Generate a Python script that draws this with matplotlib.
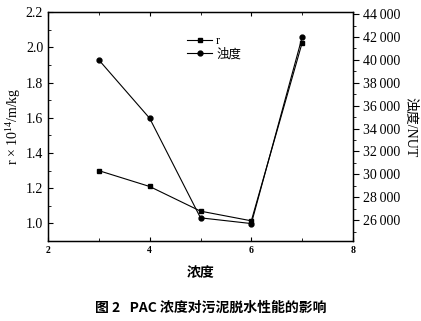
import matplotlib

matplotlib.use("Agg")
import matplotlib.pyplot as plt
from matplotlib.ticker import FixedLocator, FuncFormatter, MultipleLocator

plt.rcParams["font.family"] = ["Liberation Serif", "Noto Sans CJK SC"]
plt.rcParams["mathtext.fontset"] = "custom"
plt.rcParams["mathtext.rm"] = "Liberation Serif"
plt.rcParams["mathtext.it"] = "Liberation Serif:italic"

# Data
conc = [3, 4, 5, 6, 7]
r_values = [1.30, 1.21, 1.07, 1.015, 2.027]
turbidity = [40000, 34900, 26200, 25700, 42000]

x_ticks = [2, 4, 6, 8]
cjk = ["Noto Sans CJK SC", "DejaVu Sans"]
serif_cjk = ["Liberation Serif", "Noto Sans CJK SC"]

fig = plt.figure(figsize=(4.21, 3.21), dpi=100)
ax = fig.add_axes([0.114, 0.249, 0.7245, 0.713])
ax2 = ax.twinx()

l1, = ax.plot(conc, r_values, "k-", marker="s", markersize=3.5, linewidth=0.8, label="r")
l2, = ax2.plot(conc, turbidity, "k-", marker="o", markersize=3.5, linewidth=0.8, label="浊度")

ax.set_xlim(2, 8)
ax.set_ylim(0.9, 2.2)
ax2.set_ylim(24170, 44170)

ax.xaxis.set_major_locator(FixedLocator(x_ticks))
ax.xaxis.set_minor_locator(MultipleLocator(1))
ax.yaxis.set_major_locator(FixedLocator([1.0, 1.2, 1.4, 1.6, 1.8, 2.0, 2.2]))
ax.yaxis.set_minor_locator(MultipleLocator(0.1))
ax.yaxis.set_major_formatter(FuncFormatter(lambda v, p: f"{v:.1f}"))
ax2.yaxis.set_major_locator(MultipleLocator(2000))
ax2.yaxis.set_minor_locator(MultipleLocator(1000))
ax2.yaxis.set_major_formatter(
    FuncFormatter(lambda v, p: f"{int(v) // 1000}\u2009{int(v) % 1000:03d}")
)

for spine in ax.spines.values():
    spine.set_linewidth(1.0)

ax.tick_params(axis="both", which="both", direction="in", top=True, labelsize=10)
ax.tick_params(axis="x", labelsize=7)
ax.tick_params(axis="x", which="major", length=3)
ax.tick_params(axis="x", which="minor", length=2)
for lab in ax.get_xticklabels():
    lab.set_fontweight("bold")
ax2.tick_params(axis="y", which="both", direction="out", labelsize=10)
ax2.tick_params(axis="y", which="major", length=4)
ax2.tick_params(axis="y", which="minor", length=2)

ax.set_ylabel("r × 10$^{14}$/m/kg", fontsize=10, labelpad=2)
ax2.set_ylabel("浊度/NUT", fontsize=10, rotation=270, labelpad=12, family=serif_cjk)
ax.set_xlabel("浓度", fontsize=10, fontweight="bold", family=cjk, labelpad=8)

leg = ax.legend(
    [l1, l2], ["r", "浊度"],
    loc="upper left", bbox_to_anchor=(0.42, 0.95),
    frameon=False, handlelength=2.0, handletextpad=0.3,
    labelspacing=0.1, prop={"family": serif_cjk, "size": 9},
)

fig.text(0.5, 0.04, "图 2   PAC 浓度对污泥脱水性能的影响", ha="center", va="center",
         fontsize=10, fontweight="bold", family=cjk)

fig.savefig("out.png", dpi=100)
